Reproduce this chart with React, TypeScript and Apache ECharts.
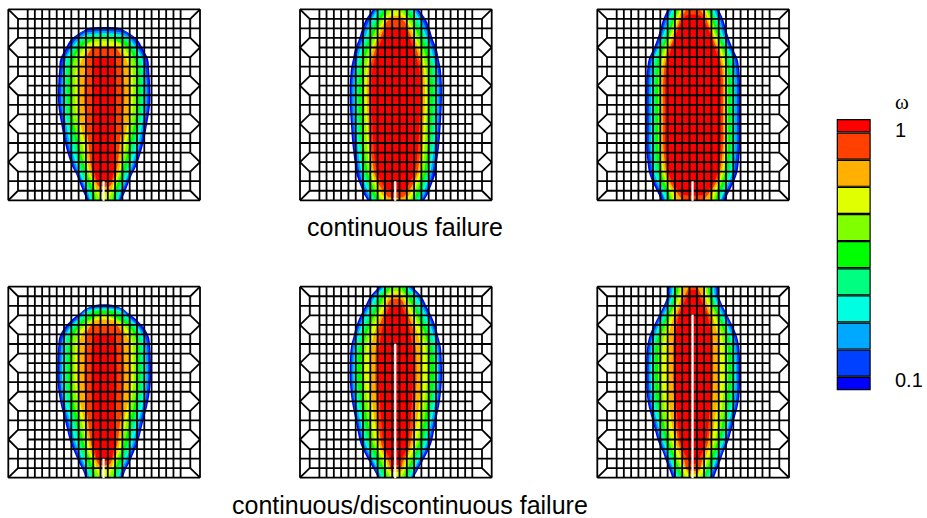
import React, { useEffect, useRef } from "react";
import * as echarts from "echarts";

// y stations of the half-width tables, in mesh units (0 = top, 191 = bottom)
const stations = [0, 10, 20, 30, 40, 50, 60, 75, 95, 115, 135, 155, 165, 175, 185, 191];
// colour levels, outermost contour first
const levelColors = ["#0000ff", "#0040ff", "#00a8ff", "#00ffe0", "#00ff80", "#00ff00", "#80ff00", "#e0ff00", "#ffb000", "#ff4000", "#ff0000"];

// each row: [top, bottom, ...half width at stations]
const panel1 = [
  [20, 191, 0, 0, 18, 33, 39, 44, 45, 46, 46, 43, 39, 33, 28, 24, 20, 17],
  [21, 191, 0, 0, 0, 31, 37, 42, 43.5, 44.5, 44.5, 41.5, 37.5, 31.5, 27, 22.5, 18.5, 16],
  [23, 191, 0, 0, 0, 28, 35, 40, 41.5, 43, 43, 40, 36, 30, 25.5, 21, 17, 15],
  [25, 191, 0, 0, 0, 25, 33, 38, 40, 41, 41, 38, 34, 28, 24, 19.5, 15.5, 14],
  [26, 191, 0, 0, 0, 23, 31, 36.5, 38.5, 39, 39, 36, 31, 25.5, 22, 18, 14, 12.5],
  [28, 191, 0, 0, 0, 19, 28, 33, 35.5, 36, 36, 33, 28, 23, 19.5, 15.5, 12, 10.5],
  [30, 191, 0, 0, 0, 10, 25, 30, 32.5, 33, 33, 30, 25.5, 20, 17, 13, 9.5, 8],
  [33, 191, 0, 0, 0, 0, 21, 26, 28.5, 29, 29, 26.5, 22, 18, 15, 11, 7, 4],
  [37, 182, 0, 0, 0, 0, 16, 22, 25, 26, 26, 23.5, 19, 16, 13.5, 9, 0, 0],
  [39, 177, 0, 0, 0, 0, 13, 18, 19, 20, 20, 18, 15.5, 13.5, 11, 7, 0, 0],
  [47, 172, 0, 0, 0, 0, 0, 10, 12, 12, 12, 11.5, 11, 10.5, 9, 0, 0, 0],
];
const panel2 = [
  [0, 191, 23, 30, 34, 37, 41, 43, 45, 46, 46, 45, 43.5, 41, 39.5, 36, 32, 28.5],
  [0, 191, 21.5, 28, 32.5, 35.5, 39.5, 41.5, 43.5, 44.8, 44.8, 43.8, 42, 39.5, 37.5, 34.5, 30.5, 27],
  [0, 191, 20, 26, 30.5, 33.5, 37.5, 40, 42, 43.5, 43.5, 42.5, 40.5, 38, 36, 33, 29, 26],
  [0, 191, 18, 24, 28, 31.5, 35.5, 38, 40, 41.5, 41.5, 40.5, 38.5, 36, 34, 31, 27, 24],
  [0, 191, 15, 21, 26, 30, 33.5, 36.5, 38.5, 39.5, 39.5, 38.5, 37, 34, 32, 29, 25, 22],
  [0, 191, 12, 18, 23, 27, 31, 34, 36, 37, 37, 36, 34.5, 32, 30, 27, 23, 20],
  [0, 191, 8, 15, 20, 24, 28, 31, 33, 34, 34, 33, 32, 29.5, 27.5, 24, 20, 17],
  [0, 191, 4, 12, 17, 21, 25, 28, 30, 31, 31, 30, 29, 27, 25, 21.5, 17, 14],
  [7, 191, 0, 9, 15, 19, 23, 26, 28, 29, 29, 28, 27, 25, 23, 19, 14, 9],
  [11, 188, 0, 0, 12, 16.5, 20.5, 23.5, 26, 27, 27, 26, 25, 23, 21, 17, 10, 0],
  [19, 180, 0, 0, 10, 14, 18, 21, 23.5, 24, 24, 23.5, 22.5, 20.5, 18, 13, 0, 0],
];
const panel3 = [
  [0, 191, 25.7, 30, 33, 36, 40, 44.5, 46, 47, 47, 47, 47, 45.5, 43.7, 39.7, 34.7, 32],
  [0, 191, 24.5, 28.5, 31.5, 34.5, 38.5, 43, 44.8, 45.8, 45.8, 45.8, 45.8, 44, 42, 38, 33, 30.5],
  [0, 191, 23, 27, 30, 33, 37, 41.5, 43, 44, 44, 44, 44, 42, 40.5, 36.5, 31, 29],
  [0, 191, 21, 25, 28, 31.5, 35.5, 39.5, 41, 42, 42, 42, 42, 40.5, 38.5, 34.5, 30, 27.5],
  [0, 191, 19, 23, 26, 30, 34, 38, 39, 40, 40, 40, 40, 38.5, 36.5, 33, 28, 26],
  [0, 191, 17, 21, 24, 28, 32, 35.5, 36.5, 37.5, 37.5, 37.5, 37.5, 36, 34, 31, 26, 24],
  [0, 191, 15, 19, 22, 26, 30, 33, 34.5, 35, 35, 35, 35, 33.5, 31.5, 28, 24, 22],
  [0, 191, 13, 17, 20, 24, 28, 31, 32.5, 33, 33, 33, 33, 31.5, 29.5, 26, 22, 20],
  [0, 191, 11, 15, 18, 22, 26, 29, 31, 31.5, 31.5, 31.5, 31.5, 30, 28, 24, 19, 17],
  [0, 191, 7, 13, 16.5, 20, 24, 27, 29, 30, 30, 30, 30, 28, 26, 22, 15, 11],
  [6, 186, 0, 10, 15, 18.5, 22, 25, 27, 28, 28, 28, 28, 26, 24, 19.5, 11, 0],
];
const panel4 = [
  [20, 191, 0, 0, 14, 29, 39, 44.7, 46, 46.7, 46.7, 44, 39, 34, 30, 25.7, 20.7, 19],
  [21, 191, 0, 0, 0, 27, 37, 43, 44.8, 45.3, 45.3, 42.8, 37.8, 32.8, 28.5, 24.5, 19.5, 18],
  [22, 191, 0, 0, 0, 25, 35, 41, 43, 43.8, 43.8, 41, 36, 31, 27, 22.8, 18, 16.5],
  [23, 191, 0, 0, 0, 23, 33, 39, 41, 42, 42, 39.5, 34, 29, 25, 21, 16.5, 15],
  [24, 191, 0, 0, 0, 21, 31, 37, 38.5, 39, 39, 36.5, 31, 26, 23, 19, 15, 13.5],
  [25, 191, 0, 0, 0, 17, 28, 34, 35.5, 36, 36, 33.5, 28.5, 23.5, 20.5, 16.5, 12.5, 11],
  [28, 191, 0, 0, 0, 10, 25, 31, 32.5, 33, 33, 30.5, 25.5, 20.5, 17.5, 13.5, 10, 8.5],
  [30, 191, 0, 0, 0, 6, 21, 27, 29, 29.5, 29.5, 27, 22.5, 18, 15.5, 11, 7, 4.5],
  [34, 182, 0, 0, 0, 0, 17, 23, 26, 27, 27, 24, 19.5, 15.5, 13.5, 9, 0, 0],
  [38, 178, 0, 0, 0, 0, 14, 18.5, 19.5, 20, 20, 18.5, 16, 13.5, 11, 7, 0, 0],
  [48, 173, 0, 0, 0, 0, 0, 10, 12.5, 13, 13, 12, 11, 10.5, 9, 0, 0, 0],
];
const panel5 = [
  [0, 191, 17.5, 26, 31, 36, 40, 42.5, 45, 46, 46, 44, 40, 36, 32, 26.5, 21, 18],
  [0, 191, 16, 24.5, 29.5, 34.5, 38.5, 41.3, 43.8, 44.8, 44.8, 42.8, 38.8, 34.5, 30.5, 25, 20, 17],
  [0, 191, 14, 23, 28, 33, 37, 40, 42.5, 43.5, 43.5, 41.5, 37.5, 33, 29, 23.5, 18.5, 16],
  [0, 191, 12, 21, 26, 31, 35, 38.5, 41, 42, 42, 39.5, 35.5, 31, 27, 22, 17, 14.5],
  [0, 191, 10.5, 18, 23, 28, 32.5, 36, 38.5, 40, 40, 37.5, 33.5, 29, 25, 20, 15.5, 13],
  [0, 191, 8, 15, 20, 25, 29.5, 33, 36, 38, 38, 35, 31, 26.5, 22.5, 17.5, 13, 11],
  [0, 191, 5, 12, 17, 22, 26.5, 30, 32.5, 34, 34, 31.5, 28, 23.5, 19.5, 15, 10.5, 8],
  [5, 191, 0, 9, 14, 19, 23.5, 27, 29.5, 31, 31, 28.5, 25, 21, 17, 12, 8, 5],
  [10, 184, 0, 7, 11, 15.5, 19.5, 22.5, 24.5, 25, 25, 23.5, 21, 17.5, 14, 9, 0, 0],
  [13, 181, 0, 0, 9, 13, 16.5, 18.5, 20, 20.5, 20.5, 19.5, 17.5, 15, 12, 7, 0, 0],
  [19, 178, 0, 0, 6, 10, 13, 15, 16.5, 17, 17, 16, 14.5, 12.5, 9.5, 4, 0, 0],
];
const panel6 = [
  [0, 191, 25, 26, 30, 35, 40, 44, 46, 47, 47, 45.5, 40.5, 35, 30.5, 27, 23, 21],
  [0, 191, 24, 25, 29, 34, 38.8, 42.8, 44.8, 45.8, 45.8, 44.3, 39.3, 33.8, 29.3, 25.8, 21.5, 19.5],
  [0, 191, 22.5, 23.5, 27.5, 32.5, 37, 41, 43.2, 44.2, 44.2, 42.7, 37.8, 32.3, 28, 24.3, 20, 18],
  [0, 191, 20.5, 22, 25.5, 30.5, 35, 39, 41.5, 42.5, 42.5, 40.5, 36, 30.5, 26, 22.5, 18.5, 16.5],
  [0, 191, 18.5, 20, 24, 29, 33, 37, 39.5, 40.5, 40.5, 38.5, 34, 29, 24.5, 21, 17, 14.5],
  [0, 191, 16.5, 18.5, 22, 27, 31, 35, 37.5, 38, 38, 36, 32, 27, 22.5, 19, 15, 12.5],
  [0, 191, 14.5, 16.5, 20, 25, 29, 32.5, 34.5, 35, 35, 33, 29.5, 24.5, 20, 16.5, 12.5, 9.5],
  [0, 191, 12.5, 14.5, 18, 22.5, 26, 29, 30.5, 31, 31, 29.5, 26, 21.5, 17.5, 14, 10, 7],
  [0, 187, 9.5, 12, 15.5, 19.5, 22.5, 24.5, 25, 25, 25, 24, 21.5, 18, 14.5, 11, 6, 0],
  [0, 183, 4.5, 9, 13, 16.5, 18.5, 19.5, 20, 20, 20, 19, 17.5, 15, 12, 8.5, 0, 0],
  [4, 177, 0, 6, 11, 14.5, 16.5, 17.5, 17.5, 17.5, 17.5, 17, 15.5, 13, 9.5, 4, 0, 0],
];
const panels = [panel1, panel2, panel3, panel4, panel5, panel6];
// y of the crack tip in each panel, mesh units
const crackTips = [172, 172, 172, 172, 57, 28];
const crackX = -0.6;

// mesh lines, offset from the centre line
const outerX = 95.9;
const innerX = 86.2;
const meshCols = [76.5, 69.35, 62.05, 54.75, 47.45, 40.15, 32.85, 25.55, 18.25, 10.95, 3.65];
const rowCount = 20;
const rowStep = 9.55;
const sideRows = [2, 6, 10, 14, 18];
const kinkRows = [4, 8, 12, 16];

// colour bar
const barBands = [0.5, 1, 1, 1, 1, 1, 1, 1, 1, 1, 0.5];
const barTicks = ["1", "0.1"];
const titles = ["continuous failure", "continuous/discontinuous failure"];

const panelLefts = [8.3, 300, 597.3];
const panelTops = [9.3, 286.7];
const panelW = 191.7;
const panelH = 191;

function meshSegments(): number[][] {
  const segs: number[][] = [];
  const y = (r: number) => r * rowStep;
  const H = rowCount * rowStep;
  for (const s of [-1, 1]) {
    segs.push([s * outerX, 0, s * outerX, H]);
    for (const c of meshCols) segs.push([s * c, 0, s * c, H]);
    segs.push([s * outerX, 0, s * innerX, y(1)]);
    segs.push([s * outerX, H, s * innerX, y(rowCount - 1)]);
    // the inner column is interrupted where the outer edge forms a kink
    for (let r = 1; r < rowCount - 1; r++) {
      const merged = kinkRows.some((k) => r === k - 1 || r === k);
      if (!merged) segs.push([s * innerX, y(r), s * innerX, y(r + 1)]);
    }
    for (const k of kinkRows) {
      segs.push([s * outerX, y(k), s * innerX, y(k - 1)]);
      segs.push([s * outerX, y(k), s * innerX, y(k + 1)]);
    }
  }
  segs.push([-outerX, 0, outerX, 0]);
  segs.push([-outerX, H, outerX, H]);
  for (let r = 1; r < rowCount; r++) {
    const ext = sideRows.includes(r) ? outerX : kinkRows.includes(r) ? meshCols[0] : innerX;
    segs.push([-ext, y(r), ext, y(r)]);
  }
  return segs;
}

// outline of one contour; open ends run past the panel and are clipped by it
function contourPoints(row: number[]): number[][] {
  const top = row[0];
  const bottom = row[1];
  const side: number[][] = [];
  stations.forEach((y, i) => {
    const w = row[i + 2];
    if (w > 0) side.push([w, y]);
  });
  if (top <= 0) side.unshift([side[0][0] * 0.92, -8]);
  else if (side[0][1] > top) side.unshift([side[0][0] * 0.6, top]);
  else side.unshift([side[0][0] * 0.55, top - 2]);
  const last = side[side.length - 1];
  if (bottom >= 191) side.push([last[0] * 0.92, 199]);
  else if (last[1] < bottom) side.push([last[0] * 0.7, bottom]);
  return side.concat(side.slice().reverse().map((p) => [-p[0], p[1]]));
}

export default function App() {
  const ref = useRef<HTMLDivElement>(null);
  useEffect(() => {
    const chart = echarts.init(ref.current!, undefined, { renderer: "svg" });
    const grids: any[] = [];
    const xAxes: any[] = [];
    const yAxes: any[] = [];
    const series: any[] = [];
    const segs = meshSegments();
    panels.forEach((rows, p) => {
      grids.push({
        left: panelLefts[p % 3],
        top: panelTops[Math.floor(p / 3)],
        width: panelW,
        height: panelH,
      });
      xAxes.push({ gridIndex: p, type: "value", min: -95.9, max: 95.9, show: false });
      yAxes.push({ gridIndex: p, type: "value", min: 0, max: 191, inverse: true, show: false });
      series.push({
        type: "custom",
        xAxisIndex: p,
        yAxisIndex: p,
        clip: true,
        silent: true,
        z: 1,
        data: rows.map((_, i) => [i]),
        renderItem: (params: any, api: any) => ({
          type: "polygon",
          shape: { points: contourPoints(rows[params.dataIndex]).map((q) => api.coord(q)), smooth: 0.35 },
          style: { fill: levelColors[params.dataIndex] },
        }),
      });
      series.push({
        type: "custom",
        xAxisIndex: p,
        yAxisIndex: p,
        clip: false,
        silent: true,
        z: 2,
        data: segs,
        renderItem: (_: any, api: any) => {
          const a = api.coord([api.value(0), api.value(1)]);
          const b = api.coord([api.value(2), api.value(3)]);
          return {
            type: "line",
            shape: { x1: a[0], y1: a[1], x2: b[0], y2: b[1] },
            style: { stroke: "#000", lineWidth: 1.8 },
          };
        },
      });
      series.push({
        type: "custom",
        xAxisIndex: p,
        yAxisIndex: p,
        clip: false,
        silent: true,
        z: 3,
        data: [[crackX, crackTips[p], crackX, 191.5]],
        renderItem: (_: any, api: any) => {
          const a = api.coord([api.value(0), api.value(1)]);
          const b = api.coord([api.value(2), api.value(3)]);
          return {
            type: "line",
            shape: { x1: a[0], y1: a[1], x2: b[0], y2: b[1] },
            style: { stroke: "#fff", lineWidth: 2.2 },
          };
        },
      });
    });
    // colour bar as a stacked bar
    grids.push({ left: 836.7, top: 119, width: 34, height: 271.3 });
    xAxes.push({ gridIndex: 6, type: "category", data: ["ω"], show: false });
    yAxes.push({ gridIndex: 6, type: "value", min: 0, max: 10, show: false });
    barBands.forEach((v, i) => {
      series.push({
        type: "bar",
        xAxisIndex: 6,
        yAxisIndex: 6,
        stack: "bar",
        barWidth: "100%",
        silent: true,
        data: [v],
        itemStyle: { color: levelColors[i], borderColor: "#000", borderWidth: 1.2 },
      });
    });
    const sans = { fontFamily: "Liberation Sans", fontSize: 20, fill: "#000" };
    const title = { ...sans, fontSize: 25, textVerticalAlign: "middle" };
    chart.setOption({
      animation: false,
      grid: grids,
      xAxis: xAxes,
      yAxis: yAxes,
      series,
      graphic: [
        { type: "text", x: 307, y: 227, style: { ...title, text: titles[0] } },
        { type: "text", x: 232, y: 505, style: { ...title, text: titles[1] } },
        { type: "text", x: 895, y: 130, style: { ...sans, text: barTicks[0], textVerticalAlign: "middle" } },
        { type: "text", x: 895, y: 380, style: { ...sans, text: barTicks[1], textVerticalAlign: "middle" } },
        { type: "text", x: 895, y: 102, style: { fontFamily: "Liberation Serif", fontSize: 21, fill: "#000", text: "ω", textVerticalAlign: "middle" } },
      ],
    });
    return () => chart.dispose();
  }, []);
  return <div ref={ref} style={{ position: "absolute", left: 0, top: 0, width: 927, height: 518, background: "#fff" }} />;
}
